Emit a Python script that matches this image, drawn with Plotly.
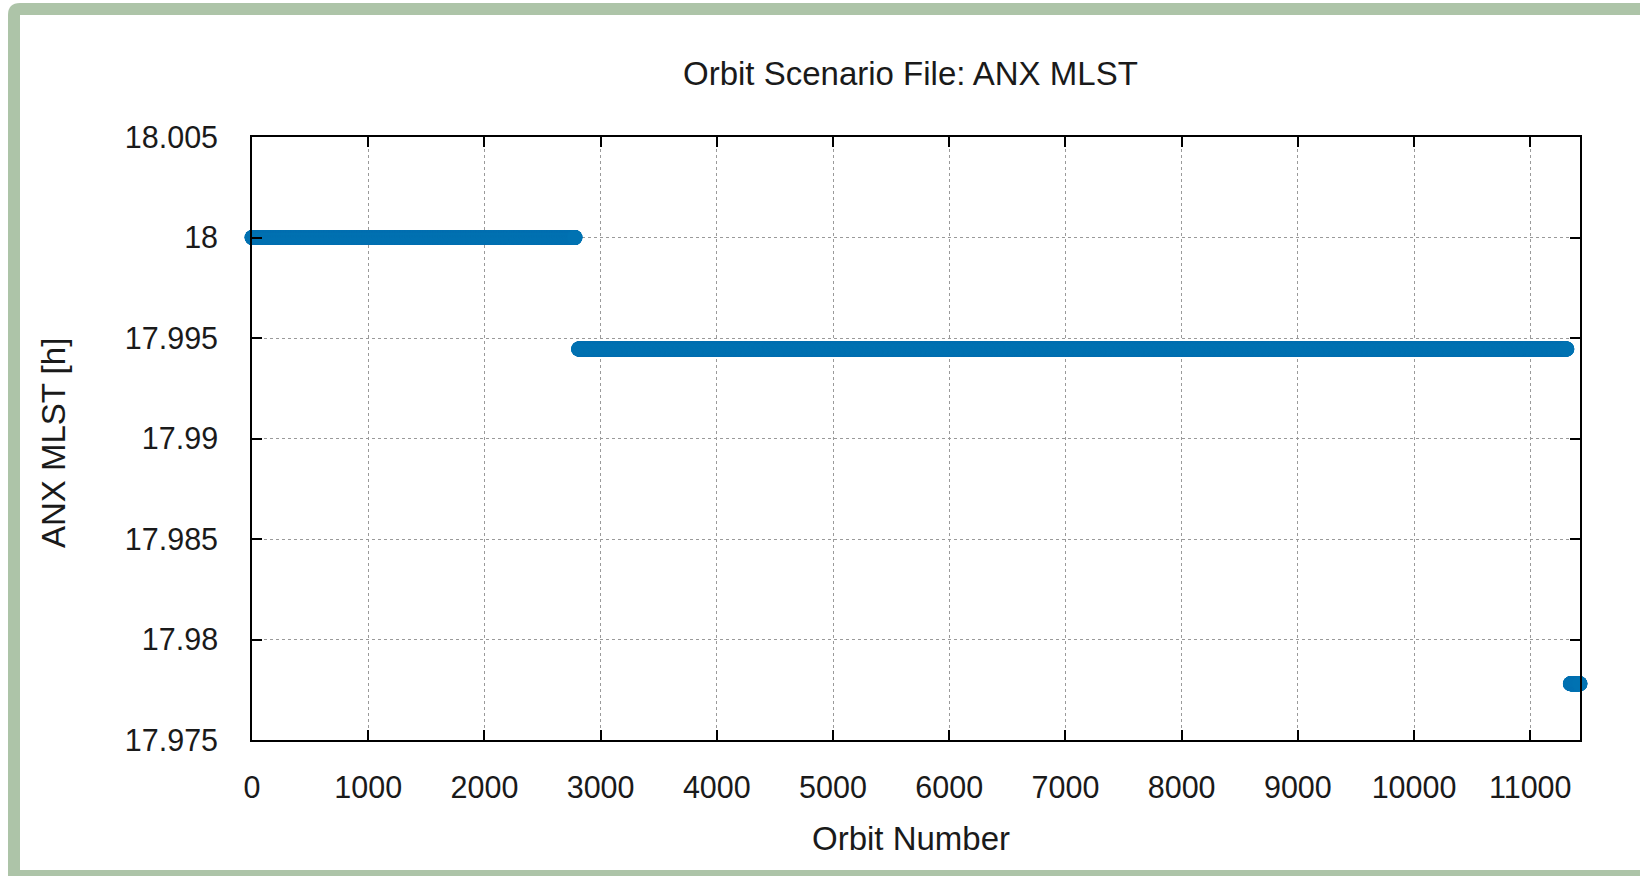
import numpy as np
import plotly.graph_objects as go

# ---- data ----
segment_start = [0, 2810, 11345]          # first orbit of each plateau
segment_end = [2780, 11315, 11430]        # last orbit of each plateau
segment_mlst = [18.0, 17.99445, 17.9778]  # ANX MLST [h] of each plateau

x_tick_vals = [0, 1000, 2000, 3000, 4000, 5000, 6000, 7000, 8000, 9000, 10000, 11000]
x_tick_text = ["0", "1000", "2000", "3000", "4000", "5000", "6000", "7000", "8000", "9000", "10000", "11000"]
y_tick_vals = [17.975, 17.98, 17.985, 17.99, 17.995, 18.0, 18.005]
y_tick_text = ["17.975", "17.98", "17.985", "17.99", "17.995", "18", "18.005"]

title_text = "Orbit Scenario File: ANX MLST"
x_title = "Orbit Number"
y_title = "ANX MLST [h]"

# ---- build per-orbit series ----
orbits = []
mlst = []
for s, e, v in zip(segment_start, segment_end, segment_mlst):
    o = np.arange(s, e + 1)
    orbits.append(o)
    mlst.append(np.full(o.shape, v))
orbits = np.concatenate(orbits)
mlst = np.concatenate(mlst)

# ---- layout geometry (pixels) ----
W, H = 1640, 876
L, R, T, B = 252, 1580, 137, 740
PW, PH = R - L, B - T


def px(x):
    return (x - L) / PW


def py(y):
    return (B - y) / PH


FONT = "Liberation Sans, Arial, sans-serif"
TXT = "#1a1a1a"
BLUE = "#0072b2"
GREEN = "#adc4a8"

fig = go.Figure()
fig.add_trace(go.Scatter(
    x=orbits, y=mlst, mode="markers",
    marker=dict(symbol="circle", size=15, color=BLUE, line=dict(width=0)),
    cliponaxis=False, showlegend=False, hoverinfo="x+y",
))

axis_common = dict(
    showline=True, linecolor="#000000", linewidth=1.6, mirror="ticks",
    ticks="inside", ticklen=10, tickwidth=1.6, tickcolor="#000000",
    showgrid=True, gridcolor="#9a9a9a", gridwidth=1, griddash="dot",
    zeroline=False, tickfont=dict(family=FONT, size=30.5, color=TXT),
)

fig.update_xaxes(range=[0, 11428], tickmode="array", tickvals=x_tick_vals,
                 ticktext=x_tick_text, ticklabelstandoff=20, **axis_common)
fig.update_yaxes(range=[17.975, 18.005], tickmode="array", tickvals=y_tick_vals,
                 ticktext=y_tick_text, ticklabelstandoff=26, **axis_common)

# frame decoration (green border with rounded top-left corner)
r = 12
x0, y0 = 8, 3
x1, y1 = W + 20, H + 20
frame_path = (
    f"M {px(x0)} {py(y0 + r)} "
    f"Q {px(x0)} {py(y0)} {px(x0 + r)} {py(y0)} "
    f"L {px(x1)} {py(y0)} L {px(x1)} {py(y1)} L {px(x0)} {py(y1)} Z"
)
shapes = [
    dict(type="path", xref="paper", yref="paper", path=frame_path,
         fillcolor=GREEN, line=dict(width=0), layer="below"),
    dict(type="rect", xref="paper", yref="paper",
         x0=px(20), x1=px(W + 20), y0=py(870), y1=py(15),
         fillcolor="#ffffff", line=dict(width=0), layer="below"),
]

annotations = [
    dict(text=title_text, xref="paper", yref="paper", x=px(910), y=py(73),
         xanchor="center", yanchor="middle", showarrow=False,
         font=dict(family=FONT, size=33, color=TXT)),
    dict(text=x_title, xref="paper", yref="paper", x=px(911), y=py(838),
         xanchor="center", yanchor="middle", showarrow=False,
         font=dict(family=FONT, size=33, color=TXT)),
    dict(text=y_title, xref="paper", yref="paper", x=px(53), y=py(443),
         xanchor="center", yanchor="middle", showarrow=False, textangle=-90,
         font=dict(family=FONT, size=33, color=TXT)),
]

fig.update_layout(
    width=W, height=H,
    margin=dict(l=L, r=W - R, t=T, b=H - B, pad=0),
    paper_bgcolor="#ffffff", plot_bgcolor="rgba(0,0,0,0)",
    shapes=shapes, annotations=annotations,
    showlegend=False,
)

fig.write_html(
    "out.html",
    config={"displayModeBar": False},
    post_script="document.body.style.margin='0';document.body.style.overflow='hidden';",
)
